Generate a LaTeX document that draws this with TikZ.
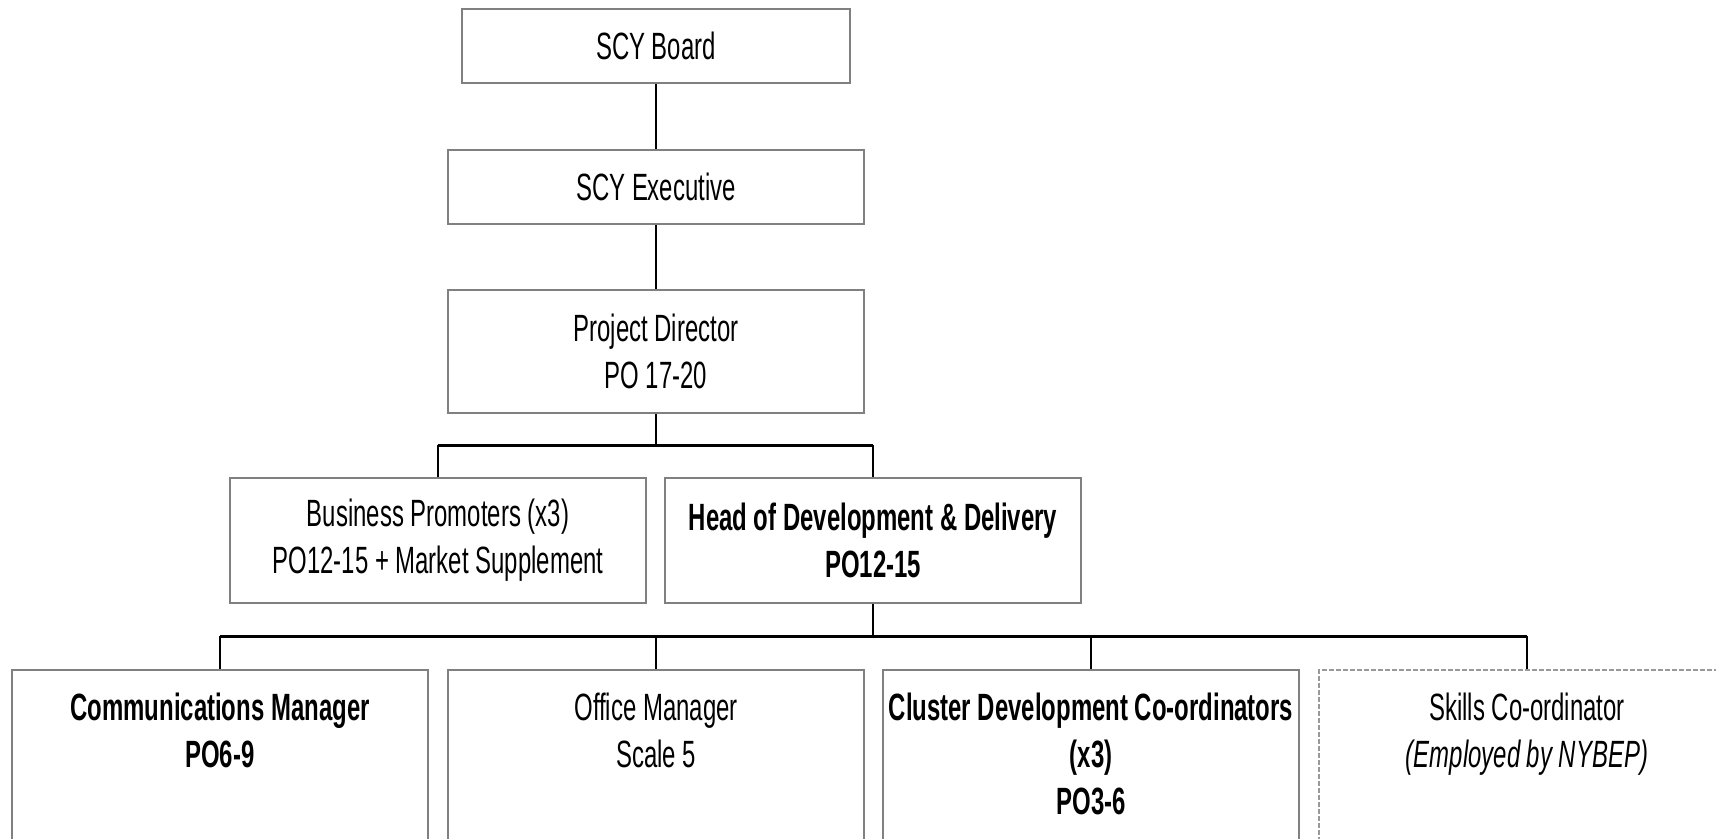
\documentclass[tikz,border=0pt]{standalone}
\usepackage{fontspec}
\setmainfont{Liberation Sans}[FakeStretch=0.63]
\begin{document}
\begin{tikzpicture}[x=0.5pt,y=-0.5pt,
  box/.style={draw=gray, line width=1pt, fill=white, inner sep=0pt, align=center,
    font=\fontsize{19pt}{23.5pt}\selectfont},
  dbox/.style={draw=gray!80, line width=0.8pt, dash pattern=on 2.5pt off 1pt, inner sep=0pt},
  txt/.style={inner sep=0pt, align=center, font=\fontsize{19pt}{23.5pt}\selectfont},
  conn/.style={draw=black, line width=0.8pt},
  bar/.style={draw=black, line width=1.5pt}]
\clip (0,0) rectangle (1716,839);
\useasboundingbox (0,0) rectangle (1716,839);
\node[box, minimum width=194pt, minimum height=37pt] (board) at (656,46) {SCY Board};
\node[box, minimum width=208pt, minimum height=37pt] (exec) at (656,187) {SCY Executive};
\node[box, minimum width=208pt, minimum height=61.5pt] (pd) at (656,351.5) {Project Director\\PO 17-20};
\node[box, minimum width=208pt, minimum height=62.5pt] (bp) at (438,540.5) {Business Promoters (x3)\\PO12-15 + Market Supplement};
\node[box, minimum width=208pt, minimum height=62.5pt] (hdd) at (873,540.5) {\bfseries Head of Development \& Delivery\\\bfseries PO12-15};
\node[box, minimum width=208pt, minimum height=120pt, anchor=north] (cm) at (220,669) {};
\node[box, minimum width=208pt, minimum height=120pt, anchor=north] (om) at (656,669) {};
\node[box, minimum width=208pt, minimum height=120pt, anchor=north] (cdc) at (1091,669) {};
\node[dbox, minimum width=208pt, minimum height=120pt, anchor=north] (sc) at (1527,669) {};
\node[txt, anchor=north] (cmt) at ([yshift=-12pt]cm.north) {\bfseries Communications Manager\\\bfseries PO6-9};
\node[txt, anchor=north] (omt) at ([yshift=-12pt]om.north) {Office Manager\\Scale 5};
\node[txt, anchor=north] (cdct) at ([yshift=-12pt]cdc.north) {\bfseries Cluster Development Co-ordinators\\\bfseries (x3)\\\bfseries PO3-6};
\node[txt, anchor=north] (sct) at ([yshift=-12pt]sc.north) {Skills Co-ordinator\\\itshape (Employed by NYBEP)};
\coordinate (j1) at (656,445);
\coordinate (j2) at (873,636);
\draw[conn] (board.south) -- (exec.north);
\draw[conn] (exec.south) -- (pd.north);
\draw[conn] (pd.south) -- (j1);
\draw[bar] (bp.north |- j1) -- (hdd.north |- j1);
\draw[conn] (bp.north |- j1) -- (bp.north);
\draw[conn] (hdd.north |- j1) -- (hdd.north);
\draw[conn] (hdd.south) -- (j2);
\draw[bar] (cm.north |- j2) -- (sc.north |- j2);
\draw[conn] (cm.north |- j2) -- (cm.north);
\draw[conn] (om.north |- j2) -- (om.north);
\draw[conn] (cdc.north |- j2) -- (cdc.north);
\draw[conn] (sc.north |- j2) -- (sc.north);
\end{tikzpicture}
\end{document}
